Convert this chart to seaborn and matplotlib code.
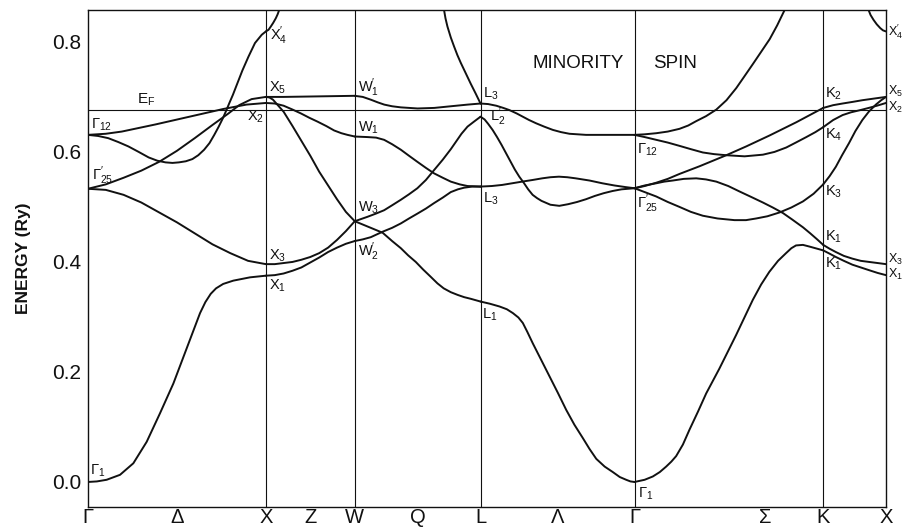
import matplotlib
matplotlib.use("Agg")
import matplotlib.pyplot as plt
import pandas as pd
import seaborn as sns

# ---- path through the fcc Brillouin zone (k in units of 2*pi/a) ----
sym_labels = ["Γ", "Δ", "X", "Z", "W", "Q", "L", "Λ", "Γ", "Σ", "K", "X"]
sym_k = [0.0, 0.5, 1.0, 1.25, 1.5, 1.854, 2.207, 2.64, 3.073, 3.807, 4.134, 4.487]
vline_k = [1.0, 1.5, 2.207, 3.073, 4.134]
e_fermi = 0.676
y_ticks = [0.0, 0.2, 0.4, 0.6, 0.8]
y_minor = [0.1, 0.3, 0.5, 0.7]

# ---- band energies (Ry) along each segment ----
# Gamma -> X (Delta)
gx_a_k = [0, 0.05, 0.105, 0.180, 0.255, 0.330, 0.405, 0.480, 0.555, 0.630, 0.66, 0.69, 0.72, 0.76, 0.817, 0.911, 1.0]
gx_a_e = [0.000, 0.001, 0.004, 0.013, 0.034, 0.073, 0.125, 0.179, 0.243, 0.307, 0.327, 0.342, 0.352, 0.360, 0.366, 0.372, 0.375]
gx_b_k = [0, 0.1, 0.2, 0.3, 0.4, 0.5, 0.6, 0.7, 0.8, 0.9, 1.0]
gx_b_e = [0.533, 0.531, 0.522, 0.508, 0.490, 0.472, 0.452, 0.432, 0.416, 0.402, 0.396]
gx_c_k = [0, 0.1, 0.2, 0.3, 0.4, 0.5, 0.6, 0.7, 0.79, 0.85, 0.92, 1.0]
gx_c_e = [0.533, 0.541, 0.553, 0.566, 0.582, 0.602, 0.625, 0.649, 0.670, 0.685, 0.696, 0.700]
gx_d_k = [0, 0.1, 0.19, 0.38, 0.57, 0.76, 0.89, 1.0]
gx_d_e = [0.631, 0.633, 0.637, 0.650, 0.664, 0.678, 0.686, 0.689]
gx_e_k = [0, 0.057, 0.114, 0.17, 0.227, 0.285, 0.341, 0.39, 0.436, 0.475, 0.511, 0.55, 0.587, 0.62, 0.653, 0.683, 0.710,
          0.735, 0.758, 0.777, 0.795, 0.815, 0.833, 0.868, 0.902, 0.939, 0.977, 1.0]
gx_e_e = [0.631, 0.629, 0.625, 0.618, 0.610, 0.600, 0.590, 0.584, 0.581, 0.580, 0.581, 0.583, 0.587, 0.594, 0.604, 0.616, 0.631,
          0.646, 0.661, 0.675, 0.689, 0.704, 0.719, 0.748, 0.773, 0.798, 0.813, 0.819]

# X -> W (Z)
xw_a_k = [1.0, 1.1, 1.3, 1.5]
xw_a_e = [0.700, 0.700, 0.701, 0.702]
xw_b_k = [1.0, 1.02, 1.04, 1.07, 1.10, 1.15, 1.20, 1.25, 1.30, 1.35, 1.40, 1.45, 1.5]
xw_b_e = [0.700, 0.699, 0.695, 0.684, 0.673, 0.647, 0.620, 0.593, 0.564, 0.539, 0.514, 0.491, 0.474]
xw_c_k = [1.0, 1.05, 1.10, 1.15, 1.197, 1.245, 1.291, 1.34, 1.384, 1.425, 1.459, 1.5]
xw_c_e = [0.689, 0.688, 0.684, 0.677, 0.670, 0.662, 0.655, 0.647, 0.639, 0.634, 0.631, 0.628]
xw_d_k = [1.0, 1.05, 1.1, 1.15, 1.2, 1.25, 1.3, 1.35, 1.4, 1.45, 1.5]
xw_d_e = [0.396, 0.396, 0.398, 0.400, 0.404, 0.409, 0.416, 0.426, 0.440, 0.456, 0.474]
xw_e_k = [1.0, 1.05, 1.1, 1.15, 1.2, 1.25, 1.3, 1.35, 1.4, 1.45, 1.5]
xw_e_e = [0.375, 0.376, 0.379, 0.384, 0.390, 0.399, 0.408, 0.418, 0.426, 0.433, 0.438]
xw_f_k = [1.0, 1.015, 1.028, 1.042, 1.056, 1.066, 1.075]
xw_f_e = [0.819, 0.822, 0.828, 0.835, 0.843, 0.850, 0.858]

# W -> L (Q)
wl_a_k = [1.5, 1.545, 1.59, 1.63, 1.666, 1.71, 1.759, 1.853, 1.947, 2.04, 2.134, 2.207]
wl_a_e = [0.702, 0.700, 0.695, 0.690, 0.686, 0.683, 0.681, 0.679, 0.680, 0.683, 0.686, 0.688]
wl_b_k = [1.5, 1.571, 1.62, 1.665, 1.71, 1.759, 1.805, 1.852, 1.9, 1.946, 1.995, 2.04, 2.09, 2.134, 2.207]
wl_b_e = [0.628, 0.627, 0.626, 0.622, 0.614, 0.604, 0.593, 0.582, 0.571, 0.561, 0.553, 0.546, 0.541, 0.538, 0.537]
wl_c_k = [1.5, 1.571, 1.62, 1.665, 1.71, 1.759, 1.805, 1.852, 1.9, 1.946, 1.995, 2.04, 2.07, 2.10, 2.134, 2.17, 2.207]
wl_c_e = [0.474, 0.482, 0.488, 0.494, 0.503, 0.513, 0.523, 0.534, 0.549, 0.567, 0.586, 0.605, 0.619, 0.633, 0.646, 0.655, 0.664]
wl_d_k = [1.5, 1.545, 1.59, 1.657, 1.71, 1.759, 1.80, 1.843, 1.885, 1.927, 1.965, 2.0, 2.04, 2.079, 2.115, 2.152, 2.207]
wl_d_e = [0.474, 0.468, 0.462, 0.453, 0.438, 0.425, 0.412, 0.400, 0.386, 0.373, 0.361, 0.352, 0.345, 0.340, 0.336, 0.333, 0.328]
wl_e_k = [1.5, 1.545, 1.59, 1.657, 1.71, 1.759, 1.805, 1.853, 1.9, 1.946, 1.995, 2.04, 2.08, 2.115, 2.16, 2.207]
wl_e_e = [0.438, 0.441, 0.445, 0.455, 0.462, 0.470, 0.479, 0.488, 0.497, 0.507, 0.517, 0.527, 0.532, 0.535, 0.537, 0.537]
wl_f_k = [2.002, 2.010, 2.021, 2.040, 2.058, 2.077, 2.096, 2.124, 2.152, 2.180, 2.207]
wl_f_e = [0.858, 0.843, 0.828, 0.808, 0.792, 0.776, 0.762, 0.743, 0.724, 0.706, 0.688]

# L -> Gamma (Lambda)
lg_a_k = [2.207, 2.25, 2.2955, 2.335, 2.370, 2.41, 2.445, 2.48, 2.520, 2.565, 2.614, 2.66, 2.707, 2.8, 2.895, 3.073]
lg_a_e = [0.688, 0.687, 0.684, 0.680, 0.676, 0.670, 0.664, 0.658, 0.652, 0.646, 0.640, 0.636, 0.633, 0.631, 0.631, 0.631]
lg_b_k = [2.207, 2.23, 2.25, 2.275, 2.30, 2.325, 2.35, 2.375, 2.40, 2.425, 2.45, 2.475, 2.50, 2.525, 2.55, 2.60, 2.65,
          2.70, 2.75, 2.80, 2.85, 2.90, 2.95, 3.00, 3.073]
lg_b_e = [0.664, 0.659, 0.651, 0.640, 0.627, 0.613, 0.598, 0.583, 0.568, 0.555, 0.544, 0.532, 0.522, 0.516, 0.511, 0.504, 0.502,
          0.505, 0.509, 0.514, 0.520, 0.525, 0.529, 0.532, 0.534]
lg_c_k = [2.207, 2.27, 2.329, 2.385, 2.441, 2.5, 2.554, 2.6, 2.648, 2.695, 2.742, 2.82, 2.892, 2.96, 3.024, 3.073]
lg_c_e = [0.537, 0.538, 0.540, 0.543, 0.546, 0.549, 0.552, 0.554, 0.555, 0.554, 0.552, 0.548, 0.543, 0.539, 0.536, 0.534]
lg_d_k = [2.207, 2.26, 2.314, 2.355, 2.389, 2.42, 2.445, 2.47, 2.501, 2.548, 2.595, 2.642, 2.689, 2.735, 2.782, 2.82,
          2.858, 2.905, 2.951, 2.99, 3.026, 3.05, 3.073]
lg_d_e = [0.328, 0.324, 0.319, 0.314, 0.307, 0.299, 0.289, 0.273, 0.252, 0.222, 0.192, 0.162, 0.131, 0.104, 0.080, 0.060,
          0.042, 0.028, 0.018, 0.009, 0.004, 0.001, 0.0]

# Gamma -> K (Sigma)
gk_a_k = [3.073, 3.13, 3.195, 3.26, 3.326, 3.375, 3.420, 3.475, 3.533, 3.59, 3.645, 3.69, 3.739, 3.785, 3.833, 3.875, 3.917]
gk_a_e = [0.631, 0.632, 0.634, 0.637, 0.642, 0.648, 0.656, 0.665, 0.677, 0.694, 0.716, 0.737, 0.760, 0.782, 0.805, 0.830, 0.858]
gk_b_k = [3.073, 3.13, 3.195, 3.26, 3.326, 3.39, 3.457, 3.52, 3.589, 3.692, 3.795, 3.86, 3.926, 3.98, 4.039, 4.09, 4.134]
gk_b_e = [0.631, 0.627, 0.622, 0.617, 0.611, 0.605, 0.599, 0.596, 0.594, 0.592, 0.595, 0.600, 0.608, 0.617, 0.627, 0.636, 0.645]
gk_c_k = [3.073, 3.13, 3.195, 3.26, 3.326, 3.439, 3.589, 3.701, 3.833, 3.983, 4.134]
gk_c_e = [0.534, 0.538, 0.544, 0.551, 0.560, 0.574, 0.594, 0.610, 0.630, 0.654, 0.680]
gk_d_k = [3.073, 3.13, 3.195, 3.24, 3.288, 3.35, 3.420, 3.475, 3.533, 3.60, 3.664, 3.73, 3.795, 3.85, 3.907, 3.96, 4.020,
          4.061, 4.10, 4.134]
gk_d_e = [0.534, 0.539, 0.543, 0.546, 0.548, 0.551, 0.552, 0.550, 0.546, 0.538, 0.528, 0.518, 0.508, 0.499, 0.489, 0.477, 0.463,
          0.452, 0.441, 0.431]
gk_e_k = [3.073, 3.13, 3.195, 3.26, 3.326, 3.39, 3.457, 3.54, 3.635, 3.70, 3.757, 3.82, 3.889, 3.955, 4.020, 4.08, 4.134]
gk_e_e = [0.534, 0.527, 0.519, 0.509, 0.500, 0.491, 0.484, 0.479, 0.476, 0.476, 0.479, 0.483, 0.490, 0.499, 0.510, 0.524, 0.541]
gk_f_k = [3.073, 3.13, 3.176, 3.215, 3.251, 3.28, 3.307, 3.345, 3.382, 3.43, 3.476, 3.550, 3.644, 3.738, 3.785, 3.831, 3.88,
          3.925, 3.955, 3.981, 4.02, 4.056, 4.134]
gk_f_e = [0.0, 0.004, 0.010, 0.018, 0.028, 0.037, 0.047, 0.068, 0.095, 0.128, 0.161, 0.206, 0.267, 0.331, 0.359, 0.382, 0.402,
          0.416, 0.425, 0.430, 0.431, 0.428, 0.421]

# K -> X
kx_a_k = [4.134, 4.19, 4.243, 4.30, 4.354, 4.42, 4.487]
kx_a_e = [0.680, 0.685, 0.688, 0.691, 0.694, 0.697, 0.700]
kx_b_k = [4.134, 4.19, 4.243, 4.29, 4.342, 4.39, 4.436, 4.487]
kx_b_e = [0.645, 0.658, 0.667, 0.672, 0.676, 0.680, 0.684, 0.689]
kx_c_k = [4.134, 4.17, 4.205, 4.24, 4.279, 4.315, 4.354, 4.39, 4.430, 4.46, 4.487]
kx_c_e = [0.541, 0.556, 0.573, 0.594, 0.616, 0.638, 0.658, 0.673, 0.686, 0.694, 0.700]
kx_d_k = [4.134, 4.17, 4.205, 4.25, 4.298, 4.345, 4.392, 4.44, 4.487]
kx_d_e = [0.431, 0.424, 0.418, 0.411, 0.406, 0.402, 0.400, 0.398, 0.396]
kx_e_k = [4.134, 4.17, 4.205, 4.25, 4.298, 4.345, 4.392, 4.44, 4.487]
kx_e_e = [0.421, 0.415, 0.409, 0.402, 0.395, 0.390, 0.385, 0.380, 0.376]
kx_f_k = [4.389, 4.40, 4.417, 4.435, 4.455, 4.47, 4.487]
kx_f_e = [0.858, 0.849, 0.840, 0.832, 0.825, 0.821, 0.819]

curves = {
    "gx_a": (gx_a_k, gx_a_e), "gx_b": (gx_b_k, gx_b_e), "gx_c": (gx_c_k, gx_c_e),
    "gx_d": (gx_d_k, gx_d_e), "gx_e": (gx_e_k, gx_e_e),
    "xw_a": (xw_a_k, xw_a_e), "xw_b": (xw_b_k, xw_b_e), "xw_c": (xw_c_k, xw_c_e),
    "xw_d": (xw_d_k, xw_d_e), "xw_e": (xw_e_k, xw_e_e), "xw_f": (xw_f_k, xw_f_e),
    "wl_a": (wl_a_k, wl_a_e), "wl_b": (wl_b_k, wl_b_e), "wl_c": (wl_c_k, wl_c_e),
    "wl_d": (wl_d_k, wl_d_e), "wl_e": (wl_e_k, wl_e_e), "wl_f": (wl_f_k, wl_f_e),
    "lg_a": (lg_a_k, lg_a_e), "lg_b": (lg_b_k, lg_b_e), "lg_c": (lg_c_k, lg_c_e),
    "lg_d": (lg_d_k, lg_d_e),
    "gk_a": (gk_a_k, gk_a_e), "gk_b": (gk_b_k, gk_b_e), "gk_c": (gk_c_k, gk_c_e),
    "gk_d": (gk_d_k, gk_d_e), "gk_e": (gk_e_k, gk_e_e), "gk_f": (gk_f_k, gk_f_e),
    "kx_a": (kx_a_k, kx_a_e), "kx_b": (kx_b_k, kx_b_e), "kx_c": (kx_c_k, kx_c_e),
    "kx_d": (kx_d_k, kx_d_e), "kx_e": (kx_e_k, kx_e_e), "kx_f": (kx_f_k, kx_f_e),
}

# ---- symmetry-point level labels ----
level_text = [
    "Γ$_1$", "Γ$_{25}^{\\prime}$", "Γ$_{12}$", "X$_2$", "X$_4^{\\prime}$", "X$_5$", "X$_3$", "X$_1$",
    "W$_1^{\\prime}$", "W$_1$", "W$_3$", "W$_2^{\\prime}$",
    "L$_3$", "L$_2^{\\prime}$", "L$_3$", "L$_1$",
    "Γ$_{12}$", "Γ$_{25}^{\\prime}$", "Γ$_1$",
    "K$_2$", "K$_4$", "K$_3$", "K$_1$", "K$_1$",
]
level_k = [
    0.012, 0.02, 0.015, 0.99, 1.025, 1.02, 1.02, 1.02,
    1.518, 1.518, 1.518, 1.518,
    2.222, 2.262, 2.222, 2.218,
    3.085, 3.085, 3.09,
    4.146, 4.146, 4.146, 4.146, 4.146,
]
level_e = [
    0.020, 0.556, 0.650, 0.664, 0.811, 0.716, 0.411, 0.356,
    0.717, 0.644, 0.499, 0.418,
    0.706, 0.664, 0.515, 0.304,
    0.603, 0.506, -0.021,
    0.705, 0.631, 0.527, 0.446, 0.396,
]
level_ha = ["left"] * 3 + ["right"] + ["left"] * 20

# labels at the right-hand X point, running off the frame edge
edge_text = ["X$_4^{\\prime}$", "X$_5$", "X$_2$", "X$_3$", "X$_1$"]
edge_e = [0.818, 0.710, 0.680, 0.405, 0.377]

rows = []
for name, (ks, es) in curves.items():
    for k, e in zip(ks, es):
        rows.append({"k": k, "E": e, "curve": name})
df = pd.DataFrame(rows)

sns.set_theme(style="white")
plt.rcParams["font.family"] = ["Liberation Sans", "DejaVu Sans"]
plt.rcParams["mathtext.default"] = "regular"
plt.rcParams["mathtext.fontset"] = "custom"
plt.rcParams["mathtext.rm"] = "Liberation Sans"

ink = "#111111"
fig = plt.figure(figsize=(9.02, 5.29), dpi=100)
ax = fig.add_axes([88 / 902, 1 - 507 / 529, 798 / 902, 497 / 529])

for k in vline_k:
    ax.axvline(k, color=ink, lw=0.8, zorder=1)
ax.axhline(e_fermi, color=ink, lw=0.8, zorder=1)

sns.lineplot(data=df, x="k", y="E", units="curve", estimator=None, sort=False,
             color=ink, lw=1.4, legend=False, ax=ax, zorder=3)

ax.set_xlim(0, 4.487)
ax.set_ylim(-0.0455, 0.858)

ax.set_xticks(sym_k)
ax.set_xticklabels(sym_labels, fontsize=14.5)
ax.set_yticks(y_ticks)
ax.set_yticklabels([f"{v:.1f}" for v in y_ticks], fontsize=15)
ax.set_yticks(y_minor, minor=True)
ax.tick_params(axis="both", which="both", direction="in", length=10, width=0.9,
               color=ink, labelcolor=ink, top=False, right=False)
ax.tick_params(axis="x", pad=0.5)
ax.tick_params(axis="y", pad=5)
ax.set_xlabel("")
ax.set_ylabel("ENERGY (Ry)", fontsize=12.5, fontweight="bold", color=ink, labelpad=15)

for side in ["left", "right", "top", "bottom"]:
    ax.spines[side].set_visible(True)
    ax.spines[side].set_color(ink)
    ax.spines[side].set_linewidth(1.0)

for txt, k, e, ha in zip(level_text, level_k, level_e, level_ha):
    ax.text(k, e, txt, fontsize=10.5, ha=ha, va="center", color=ink, clip_on=False)
for txt, e in zip(edge_text, edge_e):
    ax.text(4.497, e, txt, fontsize=9, ha="left", va="center", color=ink, clip_on=False)

ax.text(0.326, 0.695, "E$_F$", fontsize=11, ha="center", va="center", color=ink)
ax.text(2.756, 0.760, "MINORITY", fontsize=13.5, ha="center", va="center", color=ink)
ax.text(3.301, 0.760, "SPIN", fontsize=13.5, ha="center", va="center", color=ink)

fig.savefig("out.png", dpi=100, facecolor="white")
